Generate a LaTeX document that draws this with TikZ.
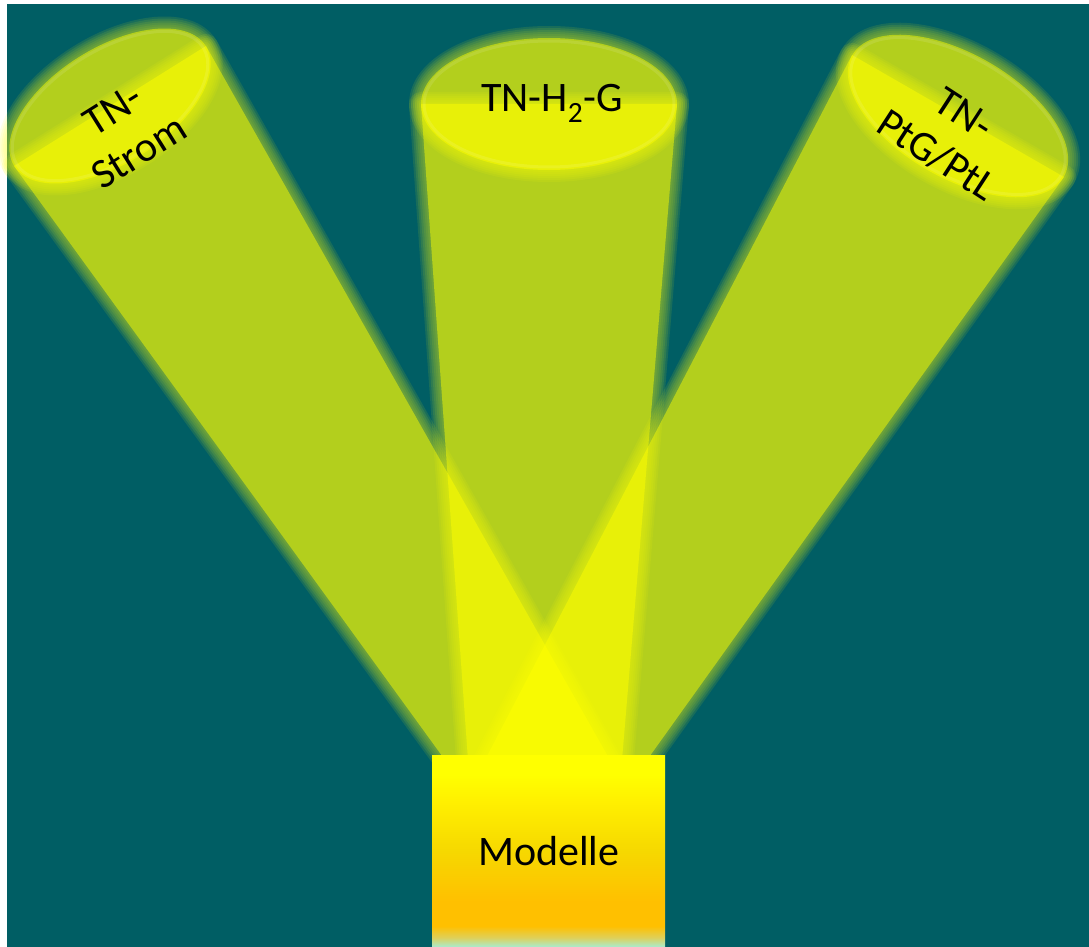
\documentclass[tikz,border=0pt]{standalone}
\usepackage{fontspec}
\setmainfont{Carlito}
\definecolor{bgteal}{RGB}{0,94,100}
\definecolor{beam}{RGB}{255,255,0}
\definecolor{mintc}{RGB}{166,236,210}
\definecolor{mixc}{RGB}{222,208,90}
\definecolor{orngc}{RGB}{255,192,0}
\definecolor{midc}{RGB}{246,216,0}
\definecolor{upc}{RGB}{255,240,0}
\pgfdeclareverticalshading{modshade}{100bp}{color(0bp)=(mintc); color(25bp)=(mintc); color(27.5bp)=(mixc); color(30.5bp)=(orngc); color(37bp)=(orngc); color(50bp)=(midc); color(63bp)=(upc); color(70bp)=(beam); color(100bp)=(beam)}
\newcommand\glowpath[1]{%
  \begin{scope}[transparency group, opacity=0.7]
    \foreach \w in {24,20,16,12,8,4}{%
      \draw[beam, line width=\w, draw opacity=0.14, line join=round] #1;}
    \fill[beam] #1;
  \end{scope}}
\tikzset{
  lbl/.style={text=black, font=\fontsize{42}{50}\selectfont, align=center, inner sep=0pt},
  rim/.style={draw=white, draw opacity=0.10, line width=3}
}
\begin{document}
\begin{tikzpicture}[x=1pt, y=-1pt]
\useasboundingbox (0,0) rectangle (1089,947);
\fill[bgteal] (7,4) rectangle (1089,947);
% left beam
\glowpath{(14,166) -- (206,46) -- (610,760) -- (445,760) -- cycle}
\glowpath{(110,106) circle [x radius=113, y radius=58, rotate=32]}
\draw[rim] (110,106) circle [x radius=110, y radius=55, rotate=32];
% middle beam
\glowpath{(421,104) -- (677,104) -- (622,760) -- (468,760) -- cycle}
\glowpath{(549,104) circle [x radius=128, y radius=66]}
\draw[rim] (549,104) circle [x radius=125, y radius=63];
% right beam
\glowpath{(852,55) -- (1064,177) -- (647,760) -- (485,760) -- cycle}
\glowpath{(958,116) circle [x radius=122, y radius=62, rotate=-30]}
\draw[rim] (958,116) circle [x radius=119, y radius=59, rotate=-30];
% labels
\node[lbl, rotate=32] (strom) at (126,131) {TN-\\Strom};
\node[lbl, anchor=base] (h2g) at (552,112) {TN-H\textsubscript{2}-G};
\node[lbl, rotate=-33] (ptg) at (950,135) {TN-\\PtG/PtL};
% box
\node[lbl, minimum width=233pt, minimum height=192pt, shading=modshade, anchor=north west] (model) at (432,755) {Modelle};
\end{tikzpicture}
\end{document}
